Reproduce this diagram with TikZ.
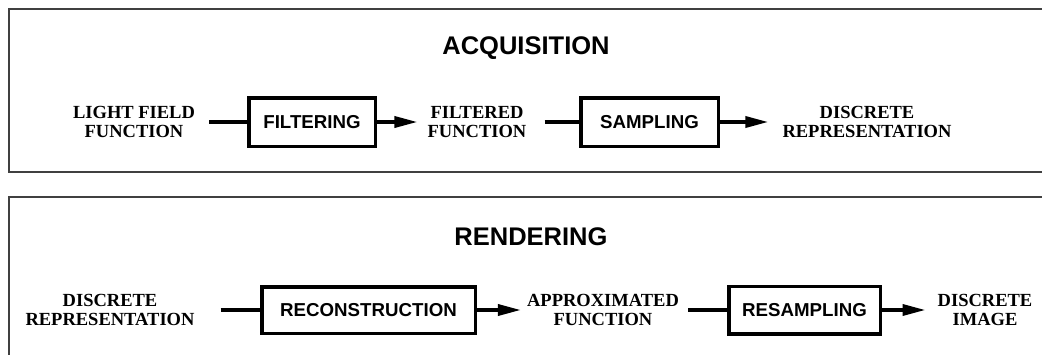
\documentclass[tikz,border=0pt]{standalone}
\usepackage{fontspec}
\setmainfont{Liberation Serif}
\setsansfont{Liberation Sans}
\usetikzlibrary{arrows.meta}
\tikzset{
  frame/.style={draw=black!75, line width=1.2pt},
  title/.style={font=\sffamily\bfseries\fontsize{25.5}{28}\selectfont, inner sep=0pt},
  lbl/.style={font=\rmfamily\bfseries\fontsize{18.5}{18.5}\selectfont, align=center, inner sep=0pt},
  stepbox/.style={draw, line width=3.5pt, font=\sffamily\bfseries\fontsize{18.7}{20}\selectfont, inner sep=0pt},
  conn/.style={line width=3.5pt},
  arr/.style={line width=3.5pt, -{Triangle[length=23pt,width=11pt]}}
}
\begin{document}
\begin{tikzpicture}[x=1pt,y=-1pt]
\useasboundingbox (0,0) rectangle (1042,354);
% frames
\draw[frame] (1043,9) -- (9,9) -- (9,172) -- (1043,172);
\draw[frame] (1043,197) -- (9,197) -- (9,355);
% top panel
\node[title] (acq) at (526,48) {ACQUISITION};
\node[lbl] (lf) at (134,122) {LIGHT FIELD\\FUNCTION};
\node[stepbox, minimum width=126.5pt, minimum height=48.5pt] (filt) at (312,122) {FILTERING};
\node[lbl] (ff) at (477,122) {FILTERED\\FUNCTION};
\node[stepbox, minimum width=137.5pt, minimum height=48.5pt] (samp) at (649.5,122) {SAMPLING};
\node[lbl] (dr) at (867,122) {DISCRETE\\REPRESENTATION};
\draw[conn, shorten <=14pt] (lf.east) -- (filt.west);
\draw[arr, shorten >=10pt] (filt.east) -- (ff.west);
\draw[conn, shorten <=18pt] (ff.east) -- (samp.west);
\draw[arr, shorten >=14pt] (samp.east) -- (dr.west);
% bottom panel
\node[title] (rend) at (531,237) {RENDERING};
\node[lbl] (dr2) at (110,310) {DISCRETE\\REPRESENTATION};
\node[stepbox, minimum width=213.5pt, minimum height=46.5pt] (recon) at (368.5,310) {RECONSTRUCTION};
\node[lbl] (appr) at (603,310) {APPROXIMATED\\FUNCTION};
\node[stepbox, minimum width=151.5pt, minimum height=47.5pt] (resamp) at (804.5,310) {RESAMPLING};
\node[lbl] (di) at (985,310) {DISCRETE\\IMAGE};
\draw[conn, shorten <=26pt] (dr2.east) -- (recon.west);
\draw[arr, shorten >=6pt] (recon.east) -- (appr.west);
\draw[conn, shorten <=9pt] (appr.east) -- (resamp.west);
\draw[arr, shorten >=12pt] (resamp.east) -- (di.west);
\end{tikzpicture}
\end{document}
